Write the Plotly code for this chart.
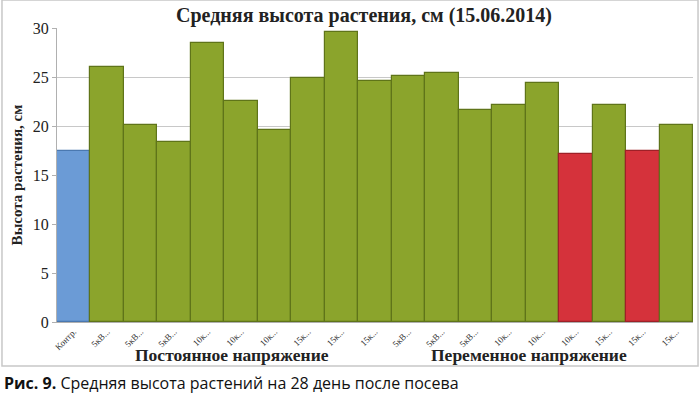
import plotly.graph_objects as go

categories = ["Контр.", "5кВ...", "5кВ...", "5кВ...", "10к...", "10к...", "10к...",
              "15к...", "15к...", "15к...", "5кВ...", "5кВ...", "5кВ...",
              "10к...", "10к...", "10к...", "15к...", "15к...", "15к..."]
values = [17.4, 26.0, 20.1, 18.4, 28.5, 22.6, 19.6, 24.9, 29.6, 24.6,
          25.1, 25.4, 21.6, 22.1, 24.4, 17.1, 22.1, 17.4, 20.1]
bar_kind = ["control"] + ["normal"] * 14 + ["low", "normal", "low", "normal"]
y_ticks = [0, 5, 10, 15, 20, 25, 30]
group_labels = ["Постоянное напряжение", "Переменное напряжение"]

color_map = {"control": "#6b9bd6", "normal": "#8ba42c", "low": "#d5323b"}
edge_map = {"control": "#4a78b0", "normal": "#5f7419", "low": "#9e2027"}

x_idx = list(range(len(categories)))

fig = go.Figure()
fig.add_trace(go.Bar(
    x=x_idx, y=values,
    marker=dict(color=[color_map[k] for k in bar_kind],
                line=dict(color=[edge_map[k] for k in bar_kind], width=1.2)),
    width=1.0,
))

serif = "Liberation Serif, Times New Roman, serif"

fig.update_layout(
    width=700, height=395,
    margin=dict(l=57, r=7, t=28, b=73),
    paper_bgcolor="white", plot_bgcolor="white",
    showlegend=False,
    bargap=0,
    font=dict(family=serif, color="#222"),
    title=dict(text="<b>Средняя высота растения, см (15.06.2014)</b>",
               x=0.52, xanchor="center", y=0.962, yanchor="middle",
               font=dict(family=serif, size=20, color="#222")),
    xaxis=dict(
        tickmode="array", tickvals=x_idx, ticktext=categories,
        tickangle=-45, tickfont=dict(family=serif, size=9, color="#333"),
        range=[-0.5, len(categories) - 0.5],
        showgrid=False, showline=True, linecolor="#b0b0b0", ticks="",
    ),
    yaxis=dict(
        range=[0, 30], tickvals=y_ticks,
        tickfont=dict(family=serif, size=16, color="#222"),
        showgrid=True, gridcolor="#c8c8c8", gridwidth=1,
        showline=True, linecolor="#b0b0b0", ticks="outside", ticklen=4, tickcolor="#b0b0b0",
        zeroline=False,
        title=dict(text="<b>Высота растения, см</b>", font=dict(family=serif, size=15, color="#222"),
                   standoff=6),
    ),
)

# group labels
fig.add_annotation(text="<b>" + group_labels[0] + "</b>", x=4.73, xref="x", y=-0.112, yref="paper",
                   showarrow=False, font=dict(family=serif, size=17.5, color="#222"), yanchor="middle")
fig.add_annotation(text="<b>" + group_labels[1] + "</b>", x=13.6, xref="x", y=-0.112, yref="paper",
                   showarrow=False, font=dict(family=serif, size=17.5, color="#222"), yanchor="middle")

# caption
fig.add_annotation(text="<b>Рис. 9.</b> Средняя высота растений на 28 день после посева",
                   x=-0.0865, xref="paper", xanchor="left", y=-0.208, yref="paper", yanchor="middle",
                   showarrow=False, font=dict(family="Open Sans, sans-serif", size=16, color="#111"))

# chart frame
fig.add_shape(type="rect", xref="paper", yref="paper",
              x0=-0.0865, x1=1.0079, y0=-0.1497, y1=1.0952,
              line=dict(color="#c8c8c8", width=1.5), fillcolor="rgba(0,0,0,0)", layer="below")

fig.write_html("out.html", config={"displayModeBar": False},
               post_script="document.body.style.margin='0';document.body.style.overflow='hidden';")
